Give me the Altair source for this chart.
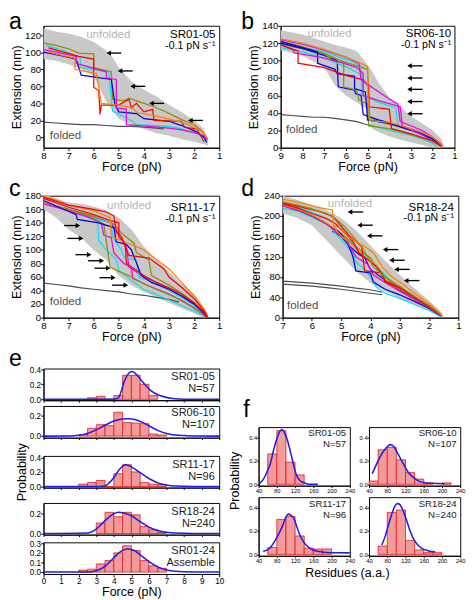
import altair as alt
import pandas as pd

FONT = "Liberation Sans"

# ---------------- panel a : SR01-05 ----------------
A_BAND_F = [8, 7.5, 7, 6.5, 6, 5.5, 5.2, 5, 4.5, 4, 3.5, 3, 2.5, 2, 1.6, 1.45]
A_BAND_LO = [92, 90, 86, 80, 72, 42, 30, 22, 15, 10, 5, 2, -2, -5, -8, -10]
A_BAND_HI = [128, 124, 122, 118, 112, 102, 92, 82, 66, 56, 48, 38, 30, 20, 10, -4]
A_OLIVE = [(8, 111), (7.5, 108), (7, 104), (6.6, 99), (6.0, 98), (6.0, 82), (5.3, 77), (5.25, 45), (4.8, 43), (4.6, 46), (4.2, 42), (3.6, 36), (3.2, 31), (2.5, 21), (2.0, 15), (1.7, 8), (1.45, -2)]
A_CYAN = [(7.9, 108), (7.2, 102), (6.55, 94), (6.5, 82), (5.4, 77), (5.25, 31), (4.5, 20), (4.3, 15), (3.0, 13), (2.5, 10), (2.0, 5), (1.6, 2), (1.5, -4)]
A_BLUE = [(8, 100), (7.3, 96), (6.7, 92), (6.5, 73), (5.3, 68), (5.15, 38), (5.0, 30), (4.3, 28), (4.0, 22), (3.0, 19), (2.5, 14), (2.0, 8), (1.6, 0), (1.5, -6)]
A_MAGENTA = [(8, 103), (7.3, 99), (6.7, 95), (6.7, 87), (5.5, 77), (5.5, 70), (5.1, 68), (5.1, 35), (4.7, 33), (4.7, 15), (3.8, 13), (3.0, 11), (2.5, 9), (2.0, 6), (1.6, 2), (1.5, -3)]
A_RED = [(7.8, 105), (7.2, 100), (6.6, 95), (6.0, 92), (6.0, 59), (5.8, 55), (5.75, 27), (5.7, 38), (5.0, 38), (4.6, 45), (4.5, 35), (4.3, 40), (4.0, 30), (3.65, 33), (3.6, 20), (2.5, 19), (2.4, 12), (1.9, 10), (1.6, -5)]
A_ORANGE = [(7.8, 100), (7.2, 96), (6.75, 93), (6.75, 80), (5.9, 75), (5.8, 60), (5.7, 40), (5.0, 38), (4.5, 35), (4.25, 29), (3.5, 25), (2.5, 18), (2.0, 12), (1.6, 5), (1.45, -3)]
A_FOLDED = [(8, 18), (7.5, 17), (7, 16), (6.5, 15), (6, 15), (5.5, 14), (5, 13), (4.5, 13), (4, 12), (3.5, 11), (3.2, 10)]
A_ARROWS = [(5.4, 99), (4.95, 78), (4.45, 60), (3.7, 40), (2.15, 20)]

# ---------------- panel b : SR06-10 ----------------
B_BAND_F = [9, 8, 7, 6.5, 6, 5.5, 5, 4.8, 4.5, 4, 3.5, 3, 2.5, 2, 1.6, 1.5]
B_BAND_LO = [112, 106, 92, 72, 60, 52, 44, 22, 18, 13, 9, 6, 3, 0, 0, 0]
B_BAND_HI = [135, 130, 122, 118, 115, 111, 95, 88, 75, 58, 47, 36, 28, 20, 10, 2]
B_ORANGE = [(9, 125), (8, 120), (7, 113), (6, 104), (5.3, 97), (5.0, 93), (4.98, 60), (4.9, 31), (4, 29), (3, 22), (2.5, 18), (2, 12), (1.6, 4), (1.55, 0)]
B_MAROON = [(9, 124), (8, 119), (7, 112), (6, 104), (5.4, 97), (5.3, 78), (4.6, 66), (4.0, 56), (3.6, 50), (3.5, 30), (2.5, 20), (2, 12), (1.6, 4), (1.55, 0)]
B_RED = [(9, 118), (8.2, 111), (8.2, 97), (7, 92), (6, 83), (5.2, 78), (4.95, 70), (4.95, 47), (4.2, 45), (4.0, 44), (3.9, 22), (3, 16), (2, 8), (1.6, 2)]
B_MAGENTA = [(9, 118), (8.4, 112), (8.4, 109), (7.2, 104), (6.2, 98), (5.5, 92), (5.2, 85), (5.2, 60), (4.5, 54), (3.5, 47), (3.4, 25), (2.5, 15), (2, 8), (1.6, 2)]
B_BLUE = [(9, 122), (8, 115), (7.3, 110), (7.3, 97), (6.5, 90), (6.4, 85), (5.6, 82), (5.6, 68), (5.1, 64), (5.0, 32), (4.0, 28), (3, 20), (2, 10), (1.6, 2)]
B_OLIVE = [(9, 122), (8, 116), (7, 108), (6.6, 100), (6.1, 97), (6.1, 70), (5.5, 66), (5.4, 55), (5.0, 50), (4.95, 25), (4, 22), (3, 15), (2, 7), (1.6, 1)]
B_CYAN = [(9, 115), (8, 110), (7, 103), (6.3, 96), (5.9, 92), (5.3, 84), (5.25, 60), (5.0, 55), (4.95, 27), (4.0, 20), (3, 14), (2.5, 10), (2, 5), (1.8, 0)]
B_BLACK = [(9, 120), (8, 114), (7, 106), (6.4, 100), (6.35, 70), (5.6, 66), (5.55, 62), (5.3, 60), (5.2, 38), (4.5, 32), (3.5, 25), (2.5, 16), (2, 10), (1.6, 2)]
B_PURPLE = [(9, 121), (7, 110), (5.8, 100), (5.3, 94), (5.2, 60), (4.5, 52), (3.7, 46), (3.6, 26), (2.5, 18), (2, 10), (1.6, 3)]
B_NAVY = [(9, 119), (7, 108), (6.0, 98), (5.0, 90), (4.9, 35), (4.5, 30), (3.5, 24), (2.5, 17), (2, 11), (1.6, 3)]
B_FOLDED = [(9, 38), (8.5, 37), (8, 36), (7.5, 35), (7, 35), (6.6, 34), (6, 32), (5.5, 30), (5.1, 27), (4.8, 25)]
B_ARROWS = [(3.07, 94), (3.07, 80), (3.07, 67), (3.07, 53), (3.07, 39)]

# ---------------- panel c : SR11-17 ----------------
C_BAND_F = [8, 7.5, 7, 6.5, 6, 5.5, 5, 4.5, 4, 3.5, 3, 2.5, 2, 1.6, 1.45]
C_BAND_LO = [160, 148, 130, 118, 100, 85, 62, 48, 38, 30, 22, 14, 6, 0, 0]
C_BAND_HI = [182, 176, 170, 168, 164, 158, 148, 130, 105, 85, 68, 50, 35, 15, 2]
C_GREEN = [(8, 178), (7.5, 172), (7, 166), (6, 160), (5.5, 156), (5.2, 150), (5.1, 128), (4.9, 120), (4.6, 92), (3.8, 88), (3.5, 80), (3.2, 72), (3, 60), (2.5, 45), (2, 28), (1.6, 10), (1.45, 0)]
C_ORANGE = [(8, 180), (7.5, 174), (7, 166), (6, 158), (5.5, 150), (5.35, 148), (5.3, 120), (4.8, 112), (4.5, 108), (4, 100), (3.5, 86), (3, 72), (2.5, 52), (2, 32), (1.6, 12), (1.45, 2)]
C_RED = [(8, 176), (7, 163), (6, 152), (5.3, 143), (5.0, 140), (5.0, 120), (4.75, 110), (4.7, 80), (4.3, 70), (4.0, 62), (3.5, 52), (3, 44), (2.5, 35), (2, 22), (1.6, 8), (1.5, 0)]
C_BLUE = [(8, 173), (7.2, 160), (6.7, 152), (6.65, 145), (5.8, 140), (5.2, 133), (5.1, 112), (4.7, 108), (4.5, 100), (4.1, 62), (3.7, 52), (3.0, 42), (2.5, 32), (2, 20), (1.6, 6), (1.5, 0)]
C_OLIVE = [(8, 170), (7, 160), (6.2, 150), (5.8, 142), (5.6, 138), (5.35, 75), (5.1, 70), (4.6, 62), (4, 50), (3.5, 42), (3, 34), (2.5, 26), (2, 15), (1.6, 4), (1.5, 0)]
C_MAGENTA = [(8, 168), (7, 158), (6.2, 148), (5.7, 140), (5.6, 122), (5.3, 118), (5.2, 96), (4.8, 80), (4.5, 74), (4.45, 58), (4, 50), (3.5, 42), (3, 35), (2.5, 25), (2, 14), (1.6, 4), (1.5, 0)]
C_CYAN = [(7.6, 165), (7, 158), (6.3, 150), (5.85, 145), (5.8, 114), (5.5, 100), (5.1, 86), (5.0, 70), (4.5, 55), (4, 42), (3.5, 34), (3, 26), (2.5, 18), (2, 10), (1.6, 2)]
C_PURPLE = [(7.4, 164), (6.5, 152), (5.6, 143), (5.3, 140), (5.25, 120), (4.9, 100), (4.8, 90), (4.3, 84), (4.2, 60), (3.5, 50), (3, 40), (2.5, 30), (2, 18), (1.6, 5)]
C_MAROON = [(7.2, 162), (6.2, 150), (5.3, 140), (5.0, 120), (4.7, 104), (4.6, 75), (4.0, 60), (3.5, 52), (3, 42), (2.5, 32), (2, 20), (1.6, 6)]
C_NAVY = [(7.3, 163), (6.0, 150), (5.2, 138), (4.9, 125), (4.4, 110), (4.3, 96), (3.8, 85), (3.7, 62), (3, 48), (2.5, 36), (2, 22), (1.6, 7)]
C_FOLDED = [(8, 51), (7.5, 49), (7, 47), (6.5, 44), (6, 42), (5.5, 40), (5, 38), (4.5, 35), (4, 33), (3.5, 30), (3, 27), (2.6, 23)]
C_ARROWS = [(6.63, 136), (6.5, 117), (6.18, 93), (5.68, 84), (5.42, 73), (5.22, 59), (4.72, 48)]

# ---------------- panel d : SR18-24 ----------------
D_BAND_F = [7, 6.5, 6, 5.5, 5, 4.5, 4, 3.5, 3, 2.5, 2, 1.6, 1.5]
D_BAND_LO = [205, 196, 182, 152, 122, 92, 68, 52, 38, 26, 14, 2, 0]
D_BAND_HI = [240, 232, 222, 212, 196, 172, 142, 112, 84, 58, 34, 12, 4]
D_ORANGE = [(7, 233), (6.5, 228), (6, 220), (5.7, 216), (5.3, 212), (5.25, 180), (5.0, 176), (4.8, 160), (4.5, 150), (4.2, 140), (3.9, 128), (3.6, 100), (3.3, 82), (3, 70), (2.5, 48), (2, 28), (1.6, 8), (1.55, 0)]
D_TEAL = [(7, 228), (6.5, 222), (6, 214), (5.7, 208), (5.5, 205), (5.2, 195), (4.9, 180), (4.6, 160), (4.3, 140), (3.9, 100), (3.5, 80), (3, 62), (2.5, 42), (2, 24), (1.6, 6)]
D_GREEN = [(7, 226), (6.4, 218), (5.8, 210), (5.3, 200), (5.0, 180), (4.7, 160), (4.3, 140), (4.2, 92), (3.6, 88), (3.5, 70), (3, 58), (2.5, 40), (2, 22), (1.6, 6)]
D_RED = [(7, 224), (6.5, 216), (6, 205), (5.5, 195), (5.2, 185), (4.9, 168), (4.6, 150), (4.4, 128), (4, 110), (3.7, 95), (3.5, 72), (3, 60), (2.5, 40), (2, 22), (1.6, 5)]
D_PINK = [(7, 222), (6.5, 214), (6, 202), (5.6, 190), (5.2, 175), (5, 160), (4.7, 148), (4.4, 130), (4.1, 115), (3.8, 104), (3.6, 80), (3.2, 62), (2.5, 42), (2, 24), (1.6, 6)]
D_MAGENTA = [(7, 220), (6.3, 208), (5.9, 198), (5.5, 185), (5.2, 170), (4.8, 150), (4.5, 120), (4.1, 105), (3.9, 84), (3.4, 66), (3, 52), (2.5, 36), (2, 20), (1.6, 4)]
D_BLUE = [(7, 221), (6.4, 210), (6, 200), (5.5, 185), (5.1, 170), (4.8, 150), (4.6, 120), (4.5, 92), (4.0, 88), (3.9, 70), (3.5, 56), (3, 45), (2.5, 32), (2, 18), (1.6, 4)]
D_NAVY = [(7, 223), (6.5, 212), (6, 200), (5.6, 188), (5.3, 176), (5, 166), (4.7, 150), (4.3, 130), (4, 118), (3.7, 90), (3.3, 70), (3, 56), (2.5, 38), (2, 20), (1.6, 4)]
D_CYAN = [(7, 215), (6.5, 210), (6, 198), (5.7, 190), (5.4, 180), (5.1, 160), (4.8, 140), (4.6, 128), (4.5, 110), (4.1, 90), (3.8, 60), (3.5, 48), (3, 38), (2.5, 26), (2, 14), (1.6, 2)]
D_BLACK = [(5.3, 170), (5.0, 160), (4.7, 140), (4.4, 125), (4.2, 118), (4.0, 95), (3.6, 78), (3.2, 62), (3, 54), (2.5, 38), (2, 20), (1.6, 4)]
D_PURPLE = [(7, 225), (6.2, 212), (5.7, 200), (5.2, 185), (4.9, 170), (4.5, 140), (4.1, 120), (3.8, 100), (3.5, 84), (3.2, 64), (2.7, 48), (2.2, 30), (1.7, 10)]
D_FOLDED1 = [(7, 72), (6.5, 70), (6, 68), (5.5, 65), (5, 62), (4.5, 58), (4, 55), (3.6, 50)]
D_FOLDED2 = [(7, 66), (6.5, 64), (6, 62), (5.5, 59), (5, 56), (4.5, 52), (4, 48), (3.6, 45)]
D_ARROWS = [(4.70, 208), (4.37, 182), (4.04, 161), (3.50, 134), (3.28, 113), (3.11, 95), (2.78, 73)]

# ---------------- panel e : force histograms ----------------
E_BIN = 0.5
E1_X = [2.5, 3.0, 3.5, 4.0, 4.5, 5.0, 5.5, 6.0]
E1_P = [0.02, 0.04, 0.0, 0.05, 0.32, 0.32, 0.20, 0.05]
E1_CX = [0, 3.9, 4.26, 4.63, 4.9, 5.02, 5.2, 5.54, 6.08, 6.63, 7.36, 8, 10]
E1_CY = [0, 0.0, 0.02, 0.26, 0.36, 0.37, 0.35, 0.26, 0.12, 0.05, 0.01, 0.002, 0]
E2_X = [2.0, 2.5, 3.0, 3.5, 4.0, 4.5, 5.0, 5.5, 6.0, 6.5]
E2_P = [0.015, 0.075, 0.11, 0.10, 0.23, 0.13, 0.125, 0.12, 0.02, 0.01]
E2_CX = [0, 1.5, 2, 2.5, 3, 3.5, 4, 4.5, 4.85, 5.2, 5.6, 6, 6.5, 7, 7.5, 8.5, 10]
E2_CY = [0, 0.002, 0.008, 0.025, 0.06, 0.105, 0.145, 0.165, 0.168, 0.16, 0.135, 0.1, 0.055, 0.025, 0.01, 0.002, 0]
E3_X = [2.0, 2.5, 3.0, 3.5, 4.0, 4.5, 5.0, 5.5, 6.0, 6.5]
E3_P = [0.033, 0.054, 0.083, 0.0, 0.175, 0.30, 0.20, 0.054, 0.033, 0.025]
E3_CX = [0, 3.0, 3.5, 4.0, 4.3, 4.66, 5.0, 5.5, 6.0, 6.5, 7.0, 7.5, 8.5, 10]
E3_CY = [0, 0.0, 0.012, 0.12, 0.23, 0.30, 0.27, 0.19, 0.11, 0.05, 0.02, 0.006, 0.001, 0]
E4_X = [3.0, 3.5, 4.0, 4.5, 5.0, 5.5, 6.0, 6.5]
E4_P = [0.106, 0.215, 0.17, 0.215, 0.19, 0.07, 0.037, 0.012]
E4_CX = [0, 2.5, 3, 3.5, 4, 4.26, 4.6, 5, 5.5, 6, 6.5, 7, 7.5, 8.5, 10]
E4_CY = [0, 0.005, 0.045, 0.13, 0.2, 0.215, 0.205, 0.18, 0.12, 0.065, 0.03, 0.012, 0.004, 0.0, 0]
E5_X = [2.0, 2.5, 3.0, 3.5, 4.0, 4.5, 5.0, 5.5, 6.0, 6.5]
E5_P = [0.02, 0.03, 0.085, 0.12, 0.2, 0.275, 0.225, 0.12, 0.065, 0.04]
E5_CX = [0, 2.5, 3, 3.5, 4, 4.4, 4.75, 5.1, 5.5, 6, 6.5, 7, 7.5, 8.5, 10]
E5_CY = [0, 0.002, 0.015, 0.06, 0.15, 0.215, 0.24, 0.23, 0.18, 0.11, 0.055, 0.022, 0.008, 0.001, 0]

# ---------------- panel f : residue histograms ----------------
F_BIN = 20
F1_X = [60, 80, 100, 120]
F1_P = [0.26, 0.46, 0.19, 0.08]
F1_C = [(40, 0.0), (50, 0.04), (60, 0.12), (66, 0.18), (72, 0.28), (79, 0.38), (86, 0.45), (91, 0.47), (97, 0.44), (103, 0.38), (109, 0.29), (114, 0.21), (119, 0.13), (124, 0.07), (130, 0.035), (135, 0.02), (145, 0.005), (155, 0.0), (170, 0.0)]
F2_X = [40, 60, 80, 100, 120, 140, 160, 200]
F2_P = [0.028, 0.296, 0.316, 0.21, 0.1, 0.045, 0.012, 0.012]
F2_C = [(47, 0.09), (55, 0.16), (61, 0.21), (68, 0.26), (75, 0.3), (82, 0.33), (88, 0.34), (95, 0.32), (102, 0.27), (109, 0.22), (116, 0.17), (123, 0.12), (130, 0.085), (140, 0.05), (150, 0.025), (165, 0.012), (180, 0.008), (205, 0.005)]
F3_X = [60, 80, 100, 120, 140, 160, 180]
F3_P = [0.06, 0.3, 0.326, 0.158, 0.054, 0.046, 0.046]
F3_C = [(50, 0.025), (64, 0.05), (78, 0.13), (92, 0.24), (100, 0.32), (105, 0.345), (111, 0.335), (117, 0.31), (127, 0.2), (137, 0.115), (151, 0.056), (169, 0.026), (197, 0.014), (240, 0.013)]
F4_X = [60, 80, 100, 120, 140, 160, 180]
F4_P = [0.071, 0.36, 0.38, 0.12, 0.038, 0.018, 0.015]
F4_C = [(68, 0.08), (75, 0.15), (81, 0.23), (87, 0.31), (92, 0.37), (97, 0.415), (102, 0.435), (107, 0.43), (113, 0.39), (119, 0.33), (125, 0.26), (130, 0.2), (140, 0.115), (154, 0.056), (171, 0.03), (185, 0.022)]

COLORS = {
    "olive": "#8f8f00", "cyan": "#00e5e5", "blue": "#0000ee", "magenta": "#ee00ee",
    "red": "#ff0000", "orange": "#ff8000", "maroon": "#8b0000", "black": "#000000",
    "purple": "#800080", "navy": "#000080", "green": "#008000", "teal": "#008080",
    "pink": "#ff1493",
}
LETTER_FS = 24


def letter_layer(letter, px, py):
    return alt.Chart(pd.DataFrame({"s": [letter]})).mark_text(
        align="left", baseline="alphabetic", fontSize=LETTER_FS, color="black"
    ).encode(x=alt.value(px), y=alt.value(py), text="s:N")


def pts_df(pts, name):
    return pd.DataFrame({"f": [p[0] for p in pts], "e": [p[1] for p in pts],
                         "i": list(range(len(pts))), "t": name})


def trace_panel(letter, lpos, w, h, xdom, xticks, ydom, yticks, band, traces, folded,
                arrows, alen, adir, texts):
    xs = alt.Scale(domain=xdom, reverse=True, nice=False, zero=False)
    ys = alt.Scale(domain=ydom, nice=False, zero=False)
    X = alt.X("f:Q", scale=xs, axis=alt.Axis(values=xticks, format="d", title="Force (pN)"))
    Y = alt.Y("e:Q", scale=ys, axis=alt.Axis(values=yticks, format="d", title="Extension (nm)"))
    bf, blo, bhi = band
    band_df = pd.DataFrame({"f": bf, "e": blo, "e2": bhi})
    layers = [alt.Chart(band_df).mark_area(color="#c8c8c8", clip=True).encode(X, Y, y2="e2:Q")]
    fold_df = pd.concat([pts_df(p, "g%d" % k) for k, p in enumerate(folded)])
    layers.append(alt.Chart(fold_df).mark_line(color="#4d4d4d", strokeWidth=1.2, clip=True)
                  .encode(X, Y, detail="t:N", order="i:Q"))
    names = list(traces.keys())
    tr_df = pd.concat([pts_df(traces[n], n) for n in names])
    layers.append(alt.Chart(tr_df).mark_line(strokeWidth=1.3, clip=True).encode(
        X, Y, order="i:Q",
        color=alt.Color("t:N", scale=alt.Scale(domain=names, range=[COLORS[n] for n in names]),
                        legend=None)))
    arr_df = pd.DataFrame({"f": [a[0] for a in arrows], "e": [a[1] for a in arrows],
                           "f2": [a[0] - adir * alen for a in arrows]})
    layers.append(alt.Chart(arr_df).mark_rule(color="black", strokeWidth=1.4)
                  .encode(X, alt.X2("f2:Q"), Y))
    shape = "triangle-left" if adir > 0 else "triangle-right"
    layers.append(alt.Chart(arr_df).mark_point(shape=shape, filled=True, size=30,
                                               color="black", opacity=1).encode(X, Y))
    for (tx, ty, s, col, al, fs) in texts:
        tdf = pd.DataFrame({"f": [tx], "e": [ty], "s": [s]})
        layers.append(alt.Chart(tdf).mark_text(align=al, baseline="middle", fontSize=fs,
                                               color=col).encode(X, Y, text="s:N"))
    layers.append(letter_layer(letter, lpos[0], lpos[1]))
    return alt.layer(*layers).properties(width=w, height=h)


def hist_panel(w, h, xdom, xticks, ydom, yticks, bx, bw, bp, curve, lbls, show_x,
               xtitle, ytitle, lab_fs, tick_fs, xtick=3, extra=None):
    xs = alt.Scale(domain=xdom, nice=False, zero=False)
    ys = alt.Scale(domain=ydom, nice=False, zero=False)
    xax = alt.Axis(values=xticks, labels=show_x, title=xtitle, format="d",
                   labelFontSize=tick_fs, tickSize=xtick)
    yax = alt.Axis(values=yticks, title=ytitle, format=".1f", labelFontSize=tick_fs,
                   tickSize=3 if tick_fs > 8 else 2)
    X = alt.X("x:Q", scale=xs, axis=xax)
    Y = alt.Y("p:Q", scale=ys, axis=yax)
    bdf = pd.DataFrame({"x": bx, "x2": [v + bw for v in bx], "p": bp, "z": [0] * len(bx)})
    cdf = pd.DataFrame({"x": [c[0] for c in curve], "p": [c[1] for c in curve]})
    bars = alt.Chart(bdf).mark_rect(fill="#f39a9a", stroke="#e31515", strokeWidth=0.8).encode(
        X, alt.X2("x2:Q"), Y, alt.Y2("z:Q"))
    line = alt.Chart(cdf).mark_line(color="#1d1df0", strokeWidth=1.6, interpolate="monotone",
                                    clip=True).encode(X, Y)
    layers = [bars, line]
    for (tx, ty, s) in lbls:
        tdf = pd.DataFrame({"x": [tx], "p": [ty], "s": [s]})
        layers.append(alt.Chart(tdf).mark_text(align="right", baseline="middle",
                                               fontSize=lab_fs, color="#222222")
                      .encode(X, Y, text="s:N"))
    if extra:
        layers.extend(extra)
    return alt.layer(*layers).properties(width=w, height=h)


RATE = "-0.1 pN s\u207b\u00b9"
GRAY_T = "#b5b5b5"
DARK_T = "#505050"
H1 = 127

pa = trace_panel("a", (-36, 3), 183, H1, [1, 8], list(range(1, 9)), [-12, 131],
                 list(range(0, 121, 20)), (A_BAND_F, A_BAND_LO, A_BAND_HI),
                 {"olive": A_OLIVE, "cyan": A_CYAN, "blue": A_BLUE, "magenta": A_MAGENTA,
                  "red": A_RED, "orange": A_ORANGE},
                 [A_FOLDED], A_ARROWS, 0.5, 1,
                 [(5.42, 121, "unfolded", GRAY_T, "center", 12),
                  (7.75, 3, "folded", DARK_T, "left", 12),
                  (1.15, 121, "SR01-05", "black", "right", 12),
                  (1.15, 107, RATE, "black", "right", 11)])

pb = trace_panel("b", (-41, 3), 181, H1, [1, 9], list(range(1, 10)), [0, 140],
                 list(range(0, 141, 20)), (B_BAND_F, B_BAND_LO, B_BAND_HI),
                 {"navy": B_NAVY, "purple": B_PURPLE, "black": B_BLACK, "cyan": B_CYAN,
                  "olive": B_OLIVE, "blue": B_BLUE, "magenta": B_MAGENTA, "red": B_RED,
                  "maroon": B_MAROON, "orange": B_ORANGE},
                 [B_FOLDED], B_ARROWS, 0.6, 1,
                 [(6.75, 132, "unfolded", GRAY_T, "center", 12),
                  (8.75, 21, "folded", DARK_T, "left", 12),
                  (1.15, 132, "SR06-10", "black", "right", 12),
                  (1.15, 118, RATE, "black", "right", 11)])

pc = trace_panel("c", (-36, 0), 183, H1, [1, 8], list(range(1, 9)), [0, 180],
                 list(range(0, 181, 20)), (C_BAND_F, C_BAND_LO, C_BAND_HI),
                 {"navy": C_NAVY, "maroon": C_MAROON, "purple": C_PURPLE, "cyan": C_CYAN,
                  "magenta": C_MAGENTA, "olive": C_OLIVE, "blue": C_BLUE, "red": C_RED,
                  "orange": C_ORANGE, "green": C_GREEN},
                 [C_FOLDED], C_ARROWS, 0.55, -1,
                 [(4.59, 166, "unfolded", GRAY_T, "center", 12),
                  (7.75, 24, "folded", DARK_T, "left", 12),
                  (1.15, 163, "SR11-17", "black", "right", 12),
                  (1.15, 146, RATE, "black", "right", 11)])

pd_ = trace_panel("d", (-43, 0), 183, H1, [1, 7], list(range(1, 8)), [0, 240],
                  list(range(0, 241, 40)), (D_BAND_F, D_BAND_LO, D_BAND_HI),
                  {"purple": D_PURPLE, "black": D_BLACK, "cyan": D_CYAN, "navy": D_NAVY,
                   "blue": D_BLUE, "magenta": D_MAGENTA, "pink": D_PINK, "red": D_RED,
                   "green": D_GREEN, "teal": D_TEAL, "orange": D_ORANGE},
                  [D_FOLDED1, D_FOLDED2], D_ARROWS, 0.45, 1,
                  [(4.7, 225, "unfolded", GRAY_T, "center", 12),
                   (6.85, 25, "folded", DARK_T, "left", 12),
                   (1.15, 218, "SR18-24", "black", "right", 12),
                   (1.15, 195, RATE, "black", "right", 11)])

E_W, E_H = 183, 33
e_ticks = list(range(0, 11))
E_FS = 11.5
E_TF = 8.5
e1 = hist_panel(E_W, E_H, [0, 10], e_ticks, [-0.012, 0.41], [0.0, 0.2, 0.4], E1_X, E_BIN, E1_P,
                list(zip(E1_CX, E1_CY)), [(9.75, 0.30, "SR01-05"), (9.75, 0.14, "N=57")],
                False, None, None, E_FS, E_TF, xtick=2,
                extra=[letter_layer("e", -36, -3)])
e2 = hist_panel(E_W, E_H, [0, 10], e_ticks, [-0.015, 0.29], [0.0, 0.2], E2_X, E_BIN, E2_P,
                list(zip(E2_CX, E2_CY)), [(9.75, 0.22, "SR06-10"), (9.75, 0.105, "N=107")],
                False, None, None, E_FS, E_TF, xtick=2)
e3 = hist_panel(E_W, E_H, [0, 10], e_ticks, [-0.015, 0.42], [0.0, 0.2, 0.4], E3_X, E_BIN, E3_P,
                list(zip(E3_CX, E3_CY)), [(9.75, 0.29, "SR11-17"), (9.75, 0.135, "N=96")],
                False, None, "Probability", E_FS, E_TF, xtick=2)
e4 = hist_panel(E_W, E_H, [0, 10], e_ticks, [-0.012, 0.31], [0.0, 0.2], E4_X, E_BIN, E4_P,
                list(zip(E4_CX, E4_CY)), [(9.75, 0.215, "SR18-24"), (9.75, 0.10, "N=240")],
                False, None, None, E_FS, E_TF, xtick=2)
e5 = hist_panel(E_W, E_H, [0, 10], e_ticks, [-0.02, 0.31], [0.0, 0.1, 0.2, 0.3], E5_X, E_BIN,
                E5_P, list(zip(E5_CX, E5_CY)),
                [(9.75, 0.215, "SR01-24"), (9.75, 0.095, "Assemble")],
                True, "Force (pN)", None, E_FS, E_TF, xtick=3)

e_block = alt.vconcat(e1, e2, e3, e4, e5, spacing=0)

F_W, F_H = 95, 61
f_ticks = list(range(40, 241, 40))
F_FS = 10
f1 = hist_panel(F_W, F_H, [40, 240], f_ticks, [-0.012, 0.49], [0.0, 0.2, 0.4], F1_X, F_BIN, F1_P,
                F1_C, [(232, 0.435, "SR01-05"), (232, 0.345, "N=57")],
                True, None, None, F_FS, 6, xtick=2, extra=[letter_layer("f", -16, -11)])
f2 = hist_panel(F_W, F_H, [40, 240], f_ticks, [-0.012, 0.49], [0.0, 0.2, 0.4], F2_X, F_BIN, F2_P,
                F2_C, [(232, 0.435, "SR06-10"), (232, 0.345, "N=107")],
                True, None, None, F_FS, 6, xtick=2)
f3 = hist_panel(F_W, F_H, [40, 240], f_ticks, [-0.012, 0.49], [0.0, 0.2, 0.4], F3_X, F_BIN, F3_P,
                F3_C, [(232, 0.43, "SR11-17"), (232, 0.34, "N=96")],
                True, None, None, F_FS, 6, xtick=2)
f4 = hist_panel(F_W, F_H, [40, 240], f_ticks, [-0.012, 0.49], [0.0, 0.2, 0.4], F4_X, F_BIN, F4_P,
                F4_C, [(232, 0.43, "SR18-24"), (232, 0.34, "N=240")],
                True, None, None, F_FS, 6, xtick=2)

f_grid = alt.vconcat(alt.hconcat(f1, f2, spacing=3), alt.hconcat(f3, f4, spacing=3),
                     spacing=2).properties(
    title=alt.TitleParams("Probability", orient="left", fontSize=13, anchor="middle", offset=1))
# empty band that lowers panel f relative to panel e
f_spacer = alt.Chart(pd.DataFrame({"s": [0]})).mark_rule(strokeOpacity=0).encode(
    x=alt.value(0), y=alt.value(0), y2=alt.value(1)
).properties(width=10, height=27, view=alt.ViewBackground(stroke="transparent"))
f_block = alt.vconcat(f_spacer, f_grid, spacing=2).properties(
    title=alt.TitleParams("Residues (a.a.)", orient="bottom", fontSize=13, anchor="middle",
                          offset=4))

row1 = alt.hconcat(pa, pb, spacing=18)
row2 = alt.hconcat(pc, pd_, spacing=18)
row3 = alt.hconcat(e_block, f_block, spacing=4)

chart = alt.vconcat(row1, row2, row3, spacing=2).properties(
    padding={"left": 0, "top": -11, "right": 0, "bottom": 0}
).configure(font=FONT).configure_view(stroke="black", strokeWidth=1).configure_axis(
    labelFont=FONT, titleFont=FONT, labelFontSize=10, titleFontSize=13,
    titleFontWeight="normal", tickColor="black", domainColor="black", labelColor="black",
    titleColor="black", tickSize=3, grid=False, labelFlush=False, labelOverlap=False,
    labelPadding=0, titlePadding=1
).configure_title(font=FONT, fontWeight="normal", color="black")

chart.save("out.html", embed_options={"renderer": "svg", "actions": False})
